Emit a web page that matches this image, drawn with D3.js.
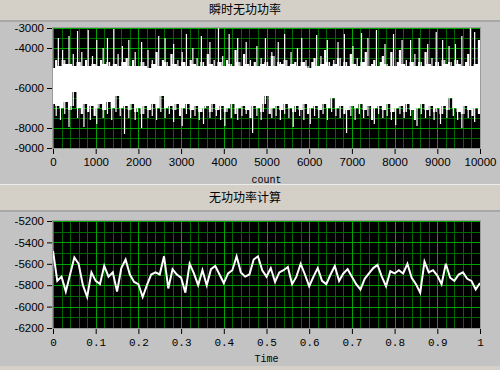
<!DOCTYPE html>
<html>
<head>
<meta charset="utf-8">
<title>瞬时无功功率</title>
<script src="https://cdn.jsdelivr.net/npm/d3@7"></script>
<style>
  body { margin: 0; background: #c3c3c3; }
  svg { display: block; }
  .yax text { font-family: "Liberation Sans", Arial, sans-serif; font-size: 11.5px; fill: #000; }
  .xax1 text { font-family: "Liberation Sans", Arial, sans-serif; font-size: 11.5px; fill: #000; }
  .xax2 text { font-family: "Liberation Mono", "DejaVu Sans Mono", monospace; font-size: 11px; fill: #000; }
  .ax line { stroke: #000; }
  .ax path { display: none; }
  .ttl { font-family: "Noto Sans CJK SC", sans-serif; font-size: 12px; fill: #000; }
  .alab { font-family: "Liberation Mono", "DejaVu Sans Mono", monospace; font-size: 10px; fill: #000; }
</style>
</head>
<body>
<script>

// top chart: per-column max / min of the 10000 samples (one pair every 50 counts)
var sampleStep = 50;
var powerHigh = [
  -5000, -4600, -3500, -4900, -4100, -4600, -4800, -3400, -4800, -4300,
  -4900, -3150, -4700, -4200, -4900, -4600, -3100, -4900, -4400, -4800,
  -3600, -4900, -4600, -4000, -4800, -3500, -4700, -4900, -3050, -4800,
  -4300, -4900, -3900, -4700, -4500, -3600, -4900, -4600, -4200, -4900,
  -4900, -3700, -4700, -4900, -4100, -5000, -4600, -4800, -4200, -3400,
  -4900, -4600, -3500, -4700, -4900, -4300, -3800, -4800, -4600, -4900,
  -4200, -4700, -3300, -4900, -4600, -4000, -4800, -4500, -4900, -3400,
  -4700, -4900, -4300, -3700, -4800, -4600, -4900, -3000, -4700, -4400,
  -4900, -4600, -3300, -4800, -4900, -4100, -3500, -4700, -4900, -4300,
  -3700, -4800, -4600, -4900, -4700, -3900, -4900, -4500, -4800, -3500,
  -4700, -4900, -4200, -4400, -4900, -3700, -4700, -4800, -3300, -4600,
  -4900, -4200, -4800, -4700, -4000, -4900, -3500, -4700, -4600, -4900,
  -5000, -4700, -4500, -3350, -4900, -4400, -4800, -4100, -3600, -4700,
  -4900, -4600, -4800, -3700, -4500, -4900, -3300, -4700, -4900, -4300,
  -3900, -4800, -4500, -4900, -3250, -4700, -4200, -3500, -4900, -4800,
  -4600, -3100, -4900, -4700, -4400, -3800, -4800, -4900, -4200, -3300,
  -4900, -4700, -4100, -3600, -4800, -4600, -4900, -3600, -4700, -4300,
  -4900, -3500, -4700, -4900, -4200, -3800, -4800, -4500, -4900, -3200,
  -4700, -4900, -3600, -4600, -4800, -3900, -4700, -4900, -3800, -4600,
  -4800, -3400, -4900, -4700, -4300, -3000, -4900, -3200, -4800, -3600
];
var powerLow = [
  -6800, -7400, -6900, -7600, -7000, -7300, -6700, -7950, -7100, -6900,
  -6200, -7500, -7000, -7300, -7950, -6800, -7200, -7600, -6900, -7400,
  -7800, -7000, -6800, -7500, -7100, -7300, -6700, -7600, -7000, -7200,
  -6400, -7400, -7000, -8300, -6900, -7500, -7100, -6800, -7600, -7200,
  -7000, -8000, -7300, -6900, -7500, -7100, -7400, -6800, -7600, -7000,
  -7200, -6400, -7500, -7000, -7300, -6900, -7700, -7100, -6800, -7400,
  -7900, -7000, -7300, -6800, -7500, -7100, -7400, -6900, -7600, -7200,
  -7800, -7000, -6900, -7500, -7200, -6800, -7400, -7100, -7600, -6900,
  -7900, -7200, -7000, -7500, -6800, -7300, -7600, -7000, -7400, -6900,
  -7300, -7100, -7500, -8250, -6900, -7400, -7000, -7600, -7200, -6800,
  -6400, -7300, -7500, -7000, -7400, -6900, -7600, -7100, -7300, -6800,
  -7500, -7000, -7950, -7200, -6900, -7400, -7100, -7600, -6800, -7300,
  -7800, -7000, -7400, -6900, -7500, -7100, -7300, -6800, -7600, -7000,
  -7200, -6500, -7400, -7000, -7500, -6900, -7300, -8250, -7100, -7400,
  -6900, -7600, -7000, -7300, -6800, -7500, -7100, -7400, -6900, -7600,
  -7800, -7000, -7300, -6900, -7500, -7100, -7400, -6800, -7600, -7200,
  -7850, -7000, -7300, -6900, -7500, -7200, -6800, -7400, -7100, -7600,
  -7900, -7000, -7300, -6800, -7500, -7100, -7400, -6900, -7600, -7200,
  -7000, -7800, -7300, -6900, -7500, -7100, -6500, -7400, -7000, -7600,
  -7200, -8000, -7300, -6900, -7500, -7100, -7400, -7700, -7000, -7300
];
var topYTicks = [-3000, -4000, -6000, -8000, -9000];
var topXTicks = [0, 1000, 2000, 3000, 4000, 5000, 6000, 7000, 8000, 9000, 10000];

// bottom chart: computed reactive power, one value every 0.01 s
var calcStep = 0.01;
var calcValues = [
  -5480, -5760, -5720, -5860, -5700, -5540, -5600, -5800, -5910, -5680,
  -5760, -5790, -5620, -5720, -5680, -5860, -5640, -5560, -5700, -5770,
  -5790, -5910, -5800, -5700, -5680, -5700, -5530, -5830, -5650, -5700,
  -5730, -5870, -5600, -5690, -5800, -5660, -5800, -5650, -5620, -5700,
  -5780, -5690, -5660, -5530, -5680, -5720, -5700, -5560, -5530, -5660,
  -5720, -5640, -5770, -5680, -5660, -5630, -5790, -5720, -5600, -5700,
  -5810, -5720, -5640, -5760, -5790, -5700, -5620, -5760, -5690, -5650,
  -5720, -5790, -5840, -5740, -5690, -5640, -5610, -5720, -5810, -5670,
  -5690, -5660, -5690, -5600, -5730, -5790, -5870, -5580, -5680, -5660,
  -5710, -5790, -5600, -5730, -5760, -5700, -5680, -5740, -5760, -5840,
  -5780
];
var botYTicks = [-5200, -5400, -5600, -5800, -6000, -6200];
var botXTicks = [0, 0.1, 0.2, 0.3, 0.4, 0.5, 0.6, 0.7, 0.8, 0.9, 1];

var width = 500, height = 370;
var plotL = 53, plotR = 480;

var svg = d3.select("body").append("svg")
    .attr("width", width)
    .attr("height", height);

// title bars / panel chrome
function titleBar(y, h, text) {
  svg.append("rect").attr("x", 0).attr("y", y).attr("width", width).attr("height", h).attr("fill", "#d4d0c8");
  svg.append("rect").attr("x", 0).attr("y", y + h).attr("width", width).attr("height", 2).attr("fill", "#a8a8a8");
  svg.append("text").attr("class", "ttl")
      .attr("x", 245).attr("y", y + h / 2).attr("dy", "0.36em")
      .attr("text-anchor", "middle").text(text);
}
svg.append("rect").attr("width", width).attr("height", height).attr("fill", "#c3c3c3");
titleBar(0, 20, "瞬时无功功率");
svg.append("rect").attr("x", 0).attr("y", 184).attr("width", width).attr("height", 1).attr("fill", "#ececec");
titleBar(185, 25, "无功功率计算");
svg.append("rect").attr("x", 0).attr("y", 366).attr("width", width).attr("height", 4).attr("fill", "#d4d0c8");

function drawPlot(o) {
  var x = d3.scaleLinear().domain(o.xDomain).range([plotL, plotR]);
  var y = d3.scaleLinear().domain(o.yDomain).range([o.top, o.bottom]);
  var g = svg.append("g");

  g.append("rect")
      .attr("x", plotL).attr("y", o.top)
      .attr("width", plotR - plotL).attr("height", o.bottom - o.top)
      .attr("fill", "#000");

  // grid: minor first, major on top
  [[o.xMinor, o.yMinor, "#006a00"], [o.xMajor, o.yMajor, "#00a400"]].forEach(function (gr) {
    g.selectAll(null).data(gr[0]).enter().append("line")
        .attr("x1", function (d) { return Math.round(x(d)) + 0.5; })
        .attr("x2", function (d) { return Math.round(x(d)) + 0.5; })
        .attr("y1", o.top).attr("y2", o.bottom)
        .attr("stroke", gr[2]);
    g.selectAll(null).data(gr[1]).enter().append("line")
        .attr("y1", function (d) { return Math.round(y(d)) + 0.5; })
        .attr("y2", function (d) { return Math.round(y(d)) + 0.5; })
        .attr("x1", plotL).attr("x2", plotR)
        .attr("stroke", gr[2]);
  });

  var clipId = "clip" + o.top;
  svg.append("clipPath").attr("id", clipId).append("rect")
      .attr("x", plotL).attr("y", o.top)
      .attr("width", plotR - plotL).attr("height", o.bottom - o.top);
  var dg = g.append("g").attr("clip-path", "url(#" + clipId + ")");
  o.draw(dg, x, y);

  // frame
  g.append("rect")
      .attr("x", plotL - 0.5).attr("y", o.top - 0.5)
      .attr("width", plotR - plotL + 1).attr("height", o.bottom - o.top + 1)
      .attr("fill", "none").attr("stroke", "#9c9c9c");

  g.append("g").attr("class", "ax yax")
      .attr("transform", "translate(" + (plotL - 1) + ",0)")
      .call(d3.axisLeft(y).tickValues(o.yTicks).tickSize(5).tickPadding(3)
        .tickFormat(function (d) { return String(d); }));

  g.append("g").attr("class", "ax " + o.xClass)
      .attr("transform", "translate(0," + (o.bottom + 1) + ")")
      .call(d3.axisBottom(x).tickValues(o.xTicks).tickSize(5).tickPadding(4)
        .tickFormat(function (d) { return String(d); }));

  svg.append("text").attr("class", "alab")
      .attr("x", (plotL + plotR) / 2).attr("y", o.labelY)
      .attr("text-anchor", "middle").text(o.label);
}

// top: 瞬时无功功率
drawPlot({
  xDomain: [0, 10000], yDomain: [-3000, -9000], top: 28, bottom: 148,
  xMajor: topXTicks, xMinor: d3.range(0, 10001, 200),
  yMajor: d3.range(-9000, -2999, 1000), yMinor: d3.range(-9000, -2999, 500),
  yTicks: topYTicks, xTicks: topXTicks, xClass: "xax1",
  label: "count", labelY: 183,
  draw: function (g, x, y) {
    var n = powerHigh.length;
    // solid core of the trace: between neighbouring columns the band is always covered
    var core = powerHigh.map(function (h, i) {
      var j = Math.min(i + 1, n - 1);
      return { c: i * sampleStep, hi: Math.min(h, powerHigh[j]), lo: Math.max(powerLow[i], powerLow[j]) };
    });
    core.push({ c: n * sampleStep, hi: core[n - 1].hi, lo: core[n - 1].lo });
    g.append("path").datum(core)
        .attr("fill", "#fff")
        .attr("d", d3.area()
          .curve(d3.curveStepAfter)
          .x(function (d) { return x(d.c); })
          .y0(function (d) { return y(d.lo); })
          .y1(function (d) { return y(d.hi); }));
    // single-pixel excursions of each column
    g.selectAll(null).data(powerHigh).enter().append("line")
        .attr("x1", function (d, i) { return x(i * sampleStep + sampleStep / 2); })
        .attr("x2", function (d, i) { return x(i * sampleStep + sampleStep / 2); })
        .attr("y1", function (d) { return y(d); })
        .attr("y2", function (d, i) { return y(powerLow[i]); })
        .attr("stroke", "#fff").attr("stroke-width", 1.2);
  }
});

// bottom: 无功功率计算
drawPlot({
  xDomain: [0, 1], yDomain: [-5200, -6200], top: 221, bottom: 328,
  xMajor: botXTicks, xMinor: d3.range(0, 51).map(function (k) { return k / 50; }),
  yMajor: botYTicks, yMinor: d3.range(-6200, -5199, 100),
  yTicks: botYTicks, xTicks: botXTicks, xClass: "xax2",
  label: "Time", labelY: 362,
  draw: function (g, x, y) {
    g.append("path").datum(calcValues)
        .attr("fill", "none").attr("stroke", "#fff").attr("stroke-width", 2)
        .attr("stroke-linejoin", "miter")
        .attr("d", d3.line()
          .x(function (d, i) { return x(i * calcStep); })
          .y(function (d) { return y(d); }));
  }
});

</script>
</body>
</html>
